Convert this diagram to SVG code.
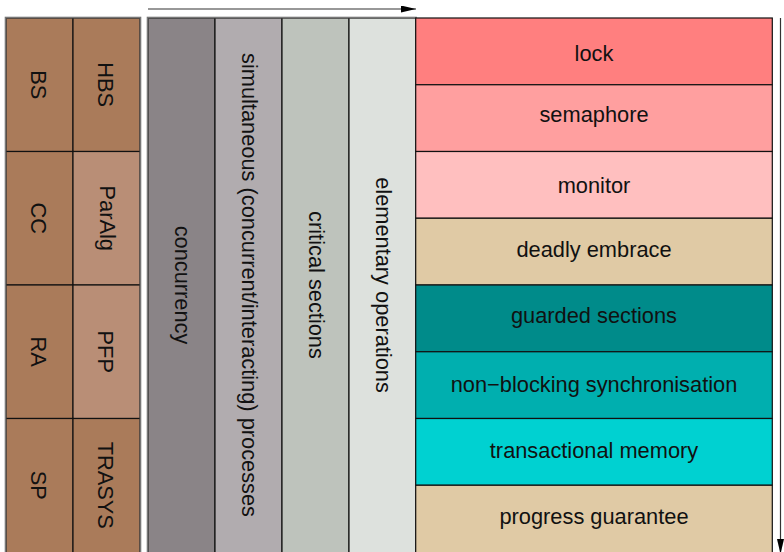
<svg xmlns="http://www.w3.org/2000/svg" width="784" height="552" viewBox="0 0 784 552">
<style>
text{font-family:"Liberation Sans",Arial,Helvetica,sans-serif;font-size:21.8px;fill:#111;text-anchor:middle}
.c{stroke:#111;stroke-width:1.2}
.dk{fill:#aa7b5a}
.lt{fill:#b98e76}
.frame{fill:none;stroke:#777;stroke-width:1.6}
.arr{stroke:#333;stroke-width:1.2;fill:none}
</style>
<defs>
<marker id="ah" viewBox="0 0 10 10" refX="10" refY="5" markerWidth="15" markerHeight="7" markerUnits="userSpaceOnUse" orient="auto" preserveAspectRatio="none">
<path d="M0,0 L10,5 L0,10 Z" fill="#000"/>
</marker>
</defs>
<rect width="784" height="552" fill="#fff"/>

<g id="left-panel">
<g id="BS"><rect class="c dk" x="6" y="18" width="67" height="133.5"/><text transform="translate(31,84.75) rotate(90)">BS</text></g>
<g id="HBS"><rect class="c dk" x="73" y="18" width="67" height="133.5"/><text transform="translate(98,84.75) rotate(90)">HBS</text></g>
<g id="CC"><rect class="c dk" x="6" y="151.5" width="67" height="133.5"/><text transform="translate(31,218.25) rotate(90)">CC</text></g>
<g id="ParAlg"><rect class="c lt" x="73" y="151.5" width="67" height="133.5"/><text transform="translate(100,218.25) rotate(90)">ParAlg</text></g>
<g id="RA"><rect class="c dk" x="6" y="285" width="67" height="133.5"/><text transform="translate(31,351.75) rotate(90)">RA</text></g>
<g id="PFP"><rect class="c lt" x="73" y="285" width="67" height="133.5"/><text transform="translate(98,351.75) rotate(90)">PFP</text></g>
<g id="SP"><rect class="c dk" x="6" y="418.5" width="67" height="135"/><text transform="translate(31,485.25) rotate(90)">SP</text></g>
<g id="TRASYS"><rect class="c dk" x="73" y="418.5" width="67" height="135"/><text transform="translate(98,485.25) rotate(90)">TRASYS</text></g>
<rect class="frame" x="5.5" y="17.5" width="135" height="540"/>
</g>

<g id="middle-panel">
<g id="concurrency"><rect class="c" fill="#8a8487" x="148" y="18" width="67" height="536"/><text transform="translate(175,285) rotate(90)">concurrency</text></g>
<g id="simultaneous"><rect class="c" fill="#b1acaf" x="215" y="18" width="67" height="536"/><text transform="translate(242,285) rotate(90)">simultaneous (concurrent/interacting) processes</text></g>
<g id="critical"><rect class="c" fill="#bec3bc" x="282" y="18" width="67" height="536"/><text transform="translate(309,285) rotate(90)">critical sections</text></g>
<g id="elementary"><rect class="c" fill="#dde1dd" x="349" y="18" width="66.7" height="536"/><text transform="translate(375.5,285) rotate(90)">elementary operations</text></g>
<rect class="frame" x="147.5" y="17.5" width="268.5" height="540"/>
</g>

<g id="right-panel">
<g id="lock"><rect class="c" fill="#ff7f7f" x="415.7" y="18" width="356.6" height="66.75"/><text x="594" y="61">lock</text></g>
<g id="semaphore"><rect class="c" fill="#ff9f9f" x="415.7" y="84.75" width="356.6" height="66.75"/><text x="594" y="121.7">semaphore</text></g>
<g id="monitor"><rect class="c" fill="#ffbfbf" x="415.7" y="151.5" width="356.6" height="66.75"/><text x="594" y="192.5">monitor</text></g>
<g id="deadly-embrace"><rect class="c" fill="#e0caa5" x="415.7" y="218.25" width="356.6" height="66.75"/><text x="594" y="256.7">deadly embrace</text></g>
<g id="guarded-sections"><rect class="c" fill="#008b8a" x="415.7" y="285" width="356.6" height="66.75"/><text x="594" y="323.3">guarded sections</text></g>
<g id="non-blocking"><rect class="c" fill="#00afaf" x="415.7" y="351.75" width="356.6" height="66.75"/><text x="594" y="391.7">non−blocking synchronisation</text></g>
<g id="transactional-memory"><rect class="c" fill="#00d1d1" x="415.7" y="418.5" width="356.6" height="66.75"/><text x="594" y="458.3">transactional memory</text></g>
<g id="progress-guarantee"><rect class="c" fill="#e0caa5" x="415.7" y="485.25" width="356.6" height="70"/><text x="594" y="524">progress guarantee</text></g>
</g>

<g id="connectors">
<line class="arr" x1="148" y1="9" x2="416" y2="9" marker-end="url(#ah)"/>
<line class="arr" x1="780.5" y1="18" x2="780.5" y2="554" marker-end="url(#ah)"/>
</g>
</svg>
